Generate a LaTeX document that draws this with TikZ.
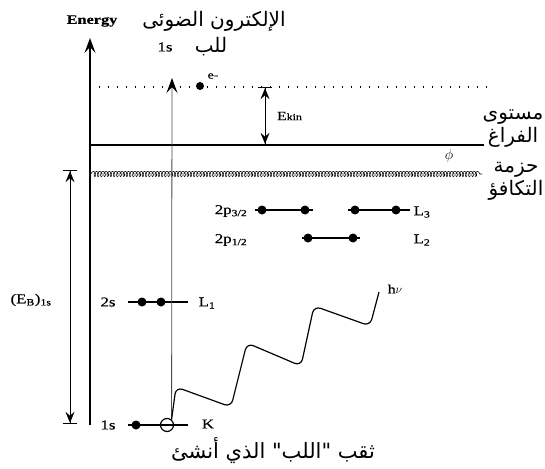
\documentclass[tikz,border=0pt]{standalone}
\usepackage{fontspec}
\setmainfont{Liberation Serif}
\newfontfamily\lat[FakeStretch=1.25,FakeBold=0.6]{Liberation Serif}
\newfontfamily\arabicfont[Script=Arabic]{DejaVu Sans}
\TeXXeTstate=1
\usetikzlibrary{arrows.meta,decorations.pathmorphing}
\tikzset{
  lvl/.style={line width=1.3pt},
  edot/.style={circle,fill=black,inner sep=0pt,minimum size=9pt},
  lbl/.style={font=\lat\fontsize{13.5}{15}\selectfont,inner sep=0pt},
  arb/.style={font=\arabicfont\fontsize{20}{23}\selectfont,inner sep=0pt,align=center},
  bigtip/.style={-{Stealth[length=15pt,width=11pt,inset=6pt,color=black]}},
  dimarrow/.style={line width=0.8pt,
    {Bar[width=14pt,line width=1.2pt,sep=0pt]Stealth[length=11pt,width=9pt,inset=4pt,sep=0pt]}-{Stealth[length=11pt,width=9pt,inset=4pt,sep=0pt]Bar[width=14pt,line width=1.2pt,sep=0pt]}},
}
\begin{document}
\begin{tikzpicture}[x=1pt,y=-1pt]
\useasboundingbox (0,0) rectangle (545,468);
% energy axis
\coordinate (axB) at (90,425);
\coordinate (axT) at (90,38);
\draw[line width=1.4pt,bigtip] (axB) -- (axT);
\node[font=\lat\bfseries\fontsize{13}{14}\selectfont,inner sep=0pt] (energy) at (92,21) {Energy};
% title
\node[arb] (title) at (214,21) {\beginR الإلكترون الضوئى\endR};
\node[arb] (lubb) at (211,47) {\beginR للب\endR};
\node[lbl] (ones) at (165,47) {1s};
% dotted free-electron level
\coordinate (dL) at (99,87);
\coordinate (dR) at (490,87);
\draw[line width=1.3pt,dash pattern=on 1.3pt off 7.7pt] (dL) -- (dR);
\node[edot,minimum size=8pt] (edot) at (200,86) {};
\node[font=\lat\fontsize{11}{12}\selectfont,inner sep=0pt] (elab) at (213,76) {e-};
% vacuum level
\coordinate (vL) at (90,145);
\coordinate (vR) at (484,145);
\draw[line width=1.5pt] (vL) -- (vR);
% Ekin
\coordinate (kinT) at (265,87);
\coordinate (kinB) at (265,145);
\draw[dimarrow] (kinT) -- (kinB);
\node[font=\lat\fontsize{12.5}{13}\selectfont,inner sep=0pt,anchor=west] (ekin) at (277,116) {E{\fontsize{9.5}{10}\selectfont kin}};
% valence band
\coordinate (bL) at (91,174);
\coordinate (bR) at (482,174);
\draw[line width=0.55pt,decorate,decoration={coil,aspect=0.6,amplitude=2.6pt,segment length=3.2pt}] (bL) -- (bR);
\node[font=\fontsize{15}{15}\selectfont,inner sep=0pt] (phi) at (449,156) {$\phi$};
% right labels
\node[arb] (vac) at (513,129) {\beginR مستوى\endR\\\beginR الفراغ\endR};
\node[arb] (val) at (516,181) {\beginR حزمة\endR\\\beginR التكافؤ\endR};
% EB arrow
\coordinate (ebT) at (70,170);
\coordinate (ebB) at (70,424);
\draw[dimarrow] (ebT) -- (ebB);
\node[lbl] (eb) at (31,300) {(E\textsubscript{B})\textsubscript{1s}};
% 2p3/2 row
\coordinate (pa1) at (255,210); \coordinate (pa2) at (313,210);
\coordinate (pb1) at (348,210); \coordinate (pb2) at (410,210);
\draw[lvl] (pa1) -- (pa2);
\draw[lvl] (pb1) -- (pb2);
\node[edot] (d1) at (262,210) {};
\node[edot] (d2) at (305,210) {};
\node[edot] (d3) at (355,210) {};
\node[edot] (d4) at (396,210) {};
\node[lbl] (p32) at (231,211) {2p\textsubscript{3/2}};
\node[lbl] (L3) at (422,212) {L\textsubscript{3}};
% 2p1/2 row
\coordinate (pc1) at (302,238); \coordinate (pc2) at (360,238);
\draw[lvl] (pc1) -- (pc2);
\node[edot] (d5) at (308,238) {};
\node[edot] (d6) at (353,238) {};
\node[lbl] (p12) at (231,240) {2p\textsubscript{1/2}};
\node[lbl] (L2) at (422,240) {L\textsubscript{2}};
% 2s row
\coordinate (sL) at (128,302); \coordinate (sR) at (188,302);
\draw[lvl] (sL) -- (sR);
\node[edot] (d7) at (142,302) {};
\node[edot] (d8) at (161,302) {};
\node[lbl] (s2) at (108,302) {2s};
\node[lbl] (L1) at (207,303) {L\textsubscript{1}};
% 1s row
\coordinate (kL) at (128,425); \coordinate (kR) at (188,425);
\draw[lvl] (kL) -- (kR);
\node[edot] (d9) at (136,425) {};
\node[circle,draw,line width=1.2pt,minimum size=13pt,inner sep=0pt] (hole) at (167,425) {};
\node[lbl] (s1) at (108,425) {1s};
\node[lbl] (K) at (208,424) {K};
% photoelectron
\coordinate (peT) at (172,78);
\draw[line width=0.8pt,draw=black!70,bigtip] (hole.50) -- (peT);
% photon
\draw[line width=1.2pt,rounded corners=7pt] (hole.50) -- (176,387) -- (231,407) -- (247,343) -- (301,366) -- (314,306) -- (370,326) -- (379,292);
\node[font=\lat\fontsize{12.5}{13}\selectfont,inner sep=0pt] (hnu) at (395,289) {h$\nu$};
% hole caption
\node[arb,font=\arabicfont\fontsize{21}{23}\selectfont] (cap) at (273,451) {\beginR ثقب "اللب" الذي أنشئ\endR};
\end{tikzpicture}
\end{document}
